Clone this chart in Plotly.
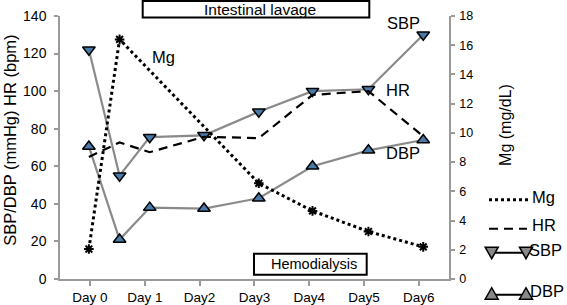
import plotly.graph_objects as go

# ---- data ----
day_labels = ["Day 0", "Day 1", "Day2", "Day3", "Day4", "Day5", "Day6"]
day_ticks = [0, 1, 2, 3, 4, 5, 6]
time_pts = [-0.02, 0.54, 1.09, 2.08, 3.08, 4.06, 5.08, 6.08]
sbp = [122, 55, 75.5, 76.5, 89, 100, 101, 130]
dbp = [70.5, 21, 38, 37.5, 43, 60, 68.5, 74]
hr = [65, 72.7, 67.5, 75.7, 75, 98, 100, 76]
mg = [2.05, 16.4, None, None, 6.55, 4.66, 3.25, 2.2]

FONT = "Liberation Sans, Arial, Helvetica, sans-serif"
GRAY = "#8a8a8a"
AXIS = "#9a9a9a"
BLUE = "#4a7aa8"

# plot area in pixels (for layout decorations)
L, R, T, B = 60, 449, 16, 279.3
def px(xp):
    return (xp - L) / (R - L)
def py(yp):
    return (B - yp) / (B - T)

def label(text, cx, cy, size, xanchor="center", angle=0):
    return dict(text=text, xref="paper", yref="paper", x=px(cx), y=py(cy),
                xanchor=xanchor, yanchor="middle", textangle=angle,
                showarrow=False, borderpad=0,
                font=dict(size=size, family=FONT, color="black"))

fig = go.Figure()

fig.add_trace(go.Scatter(
    x=time_pts, y=sbp, mode="lines+markers", name="SBP",
    line=dict(color=GRAY, width=2.2),
    marker=dict(symbol="triangle-down", size=11, color=BLUE,
                line=dict(color="black", width=1.5)),
))
fig.add_trace(go.Scatter(
    x=time_pts, y=dbp, mode="lines+markers", name="DBP",
    line=dict(color=GRAY, width=2.2),
    marker=dict(symbol="triangle-up", size=11, color=BLUE,
                line=dict(color="black", width=1.5)),
))
fig.add_trace(go.Scatter(
    x=time_pts, y=hr, mode="lines", name="HR",
    line=dict(color="black", width=2.2, dash="9px,6px"),
))
fig.add_trace(go.Scatter(
    x=time_pts, y=mg, mode="lines+markers", name="Mg", yaxis="y2",
    connectgaps=True,
    line=dict(color="black", width=3, dash="3px,3px"),
    marker=dict(symbol="asterisk-open", size=8,
                line=dict(color="black", width=2)),
))

shapes = []
annotations = []

# event boxes
shapes.append(dict(type="rect", xref="paper", yref="paper",
                   x0=px(142.7), x1=px(369.3), y0=py(17.5), y1=py(1),
                   line=dict(color="black", width=2), fillcolor="white"))
annotations.append(label("Intestinal lavage", 260, 9.5, 15.5))
shapes.append(dict(type="rect", xref="paper", yref="paper",
                   x0=px(254), x1=px(366.7), y0=py(275), y1=py(254),
                   line=dict(color="black", width=2), fillcolor="white"))
annotations.append(label("Hemodialysis", 313.5, 264.5, 14.5))

# series labels
for txt, cx, cy in [("Mg", 163.5, 57), ("SBP", 403, 23), ("HR", 398, 90), ("DBP", 403, 153)]:
    annotations.append(label(txt, cx, cy, 16.5))

# axis titles
annotations.append(label("SBP/DBP (mmHg) HR (bpm)", 10, 141, 16.5, angle=-90))
annotations.append(label("Mg (mg/dL)", 506, 125, 16, angle=-90))

# custom legend
shapes.append(dict(type="line", xref="paper", yref="paper",
                   x0=px(489), x1=px(528), y0=py(200), y1=py(200),
                   line=dict(color="black", width=3, dash="3px,3px")))
shapes.append(dict(type="line", xref="paper", yref="paper",
                   x0=px(489), x1=px(527), y0=py(229), y1=py(229),
                   line=dict(color="black", width=2.2, dash="9px,6px")))
shapes.append(dict(type="line", xref="paper", yref="paper",
                   x0=px(491.7), x1=px(526), y0=py(253), y1=py(253),
                   line=dict(color="black", width=2)))
shapes.append(dict(type="line", xref="paper", yref="paper",
                   x0=px(491.7), x1=px(526), y0=py(295), y1=py(295),
                   line=dict(color="black", width=2)))
for cx in (491.7, 526):
    shapes.append(dict(type="path", xref="paper", yref="paper",
                       xsizemode="pixel", ysizemode="pixel",
                       xanchor=px(cx), yanchor=py(253),
                       path="M -6.5,5.5 L 6.5,5.5 L 0,-6 Z",
                       fillcolor="#888888", line=dict(color="black", width=1.5)))
    shapes.append(dict(type="path", xref="paper", yref="paper",
                       xsizemode="pixel", ysizemode="pixel",
                       xanchor=px(cx), yanchor=py(294),
                       path="M -6.5,-5.5 L 6.5,-5.5 L 0,6 Z",
                       fillcolor="#888888", line=dict(color="black", width=1.5)))
for txt, lx, cy in [("Mg", 531, 197), ("HR", 531, 225), ("SBP", 528, 250), ("DBP", 529, 291)]:
    annotations.append(label(txt, lx, cy, 16.5, xanchor="left"))

fig.update_layout(
    width=567, height=305,
    margin=dict(l=L, r=567 - R, t=T, b=305 - B, pad=0, autoexpand=False),
    paper_bgcolor="white", plot_bgcolor="white",
    showlegend=False,
    font=dict(family=FONT, color="black"),
    xaxis=dict(range=[-0.547, 6.55], tickvals=day_ticks, ticktext=day_labels,
               showgrid=False, zeroline=False, showline=True, automargin=False,
               linecolor=AXIS, linewidth=1.5, ticks="outside", ticklen=5,
               tickcolor=AXIS, tickwidth=1.5,
               tickfont=dict(size=13.5, family=FONT, color="black")),
    yaxis=dict(range=[0, 140], dtick=20, showgrid=False, zeroline=False,
               showline=True, linecolor=AXIS, linewidth=1.5, ticks="outside",
               ticklen=4, tickcolor=AXIS, tickwidth=1.5, automargin=False,
               ticklabelstandoff=5,
               tickfont=dict(size=14, family=FONT, color="black")),
    yaxis2=dict(range=[0, 18], dtick=2, overlaying="y", side="right",
                showgrid=False, zeroline=False, showline=True, linecolor=AXIS,
                linewidth=1.5, ticks="outside", ticklen=4, tickcolor=AXIS,
                tickwidth=1.5, automargin=False, ticklabelstandoff=2,
                tickfont=dict(size=12.5, family=FONT, color="black")),
    shapes=shapes, annotations=annotations,
)

fig.write_html("out.html", config={"displayModeBar": False},
               post_script="document.body.style.margin='0px';document.body.style.overflow='hidden';")
